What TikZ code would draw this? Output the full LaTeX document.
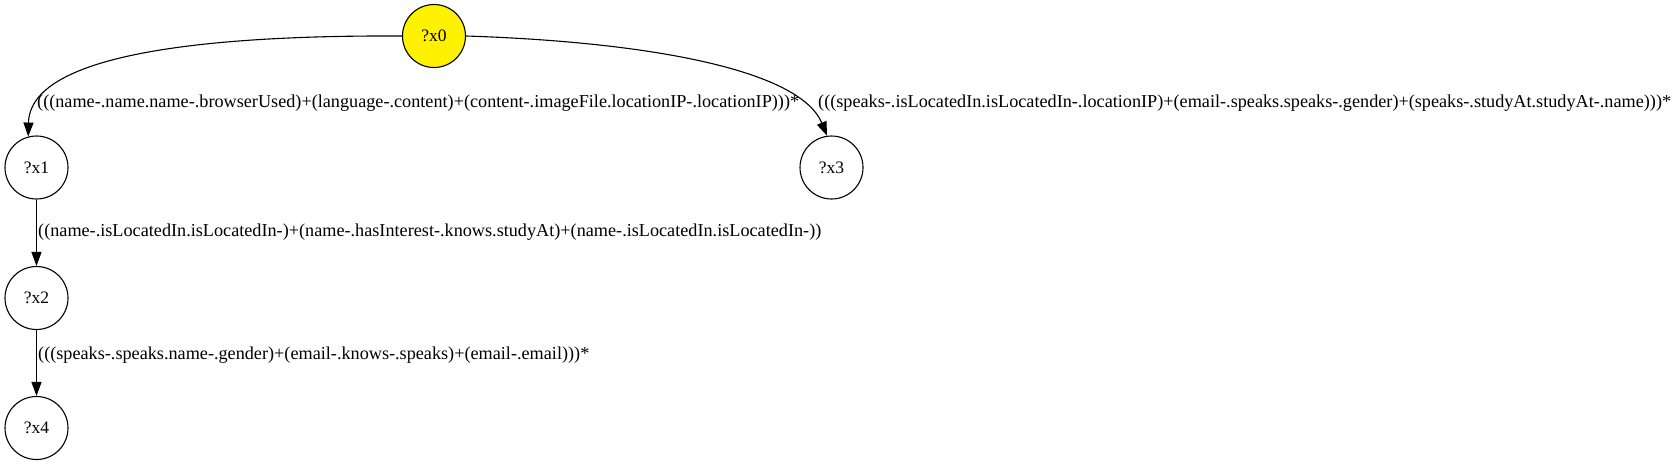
\documentclass[tikz,border=0pt]{standalone}
\usepackage{fontspec}
\setmainfont{Liberation Serif}
\usetikzlibrary{arrows.meta}
\tikzset{
  var/.style={circle, draw=black, line width=1.1pt, minimum size=63pt, inner sep=0pt, font=\fontsize{17.5}{20}\selectfont},
  root/.style={var, fill=yellow},
  elabel/.style={anchor=base west, inner sep=0pt, font=\fontsize{18.2}{21}\selectfont},
  conn/.style={line width=1.1pt, -{Triangle[length=14pt,width=10pt]}},
}
\begin{document}
\begin{tikzpicture}[x=1pt,y=-1pt]
\useasboundingbox (0,0) rectangle (1677,464);
\node[root] (x0) at (434,36) {?x0};
\node[var] (x1) at (36.5,167.5) {?x1};
\node[var] (x3) at (831.5,167.5) {?x3};
\node[var] (x2) at (36.5,298) {?x2};
\node[var] (x4) at (36.5,428) {?x4};
\draw[conn] (x0.west) .. controls (200,35) and (30,55) .. (x1.105);
\draw[conn] (x0.east) .. controls (650,42) and (800,70) .. (x3.98);
\draw[conn] (x1) -- (x2);
\draw[conn] (x2) -- (x4);
\node[elabel] (l1) at (37,107) {(((name-.name.name-.browserUsed)+(language-.content)+(content-.imageFile.locationIP-.locationIP)))*};
\node[elabel] (l2) at (818,107) {(((speaks-.isLocatedIn.isLocatedIn-.locationIP)+(email-.speaks.speaks-.gender)+(speaks-.studyAt.studyAt-.name)))*};
\node[elabel] (l3) at (38,236) {((name-.isLocatedIn.isLocatedIn-)+(name-.hasInterest-.knows.studyAt)+(name-.isLocatedIn.isLocatedIn-))};
\node[elabel] (l4) at (38,359) {(((speaks-.speaks.name-.gender)+(email-.knows-.speaks)+(email-.email)))*};
\end{tikzpicture}
\end{document}
